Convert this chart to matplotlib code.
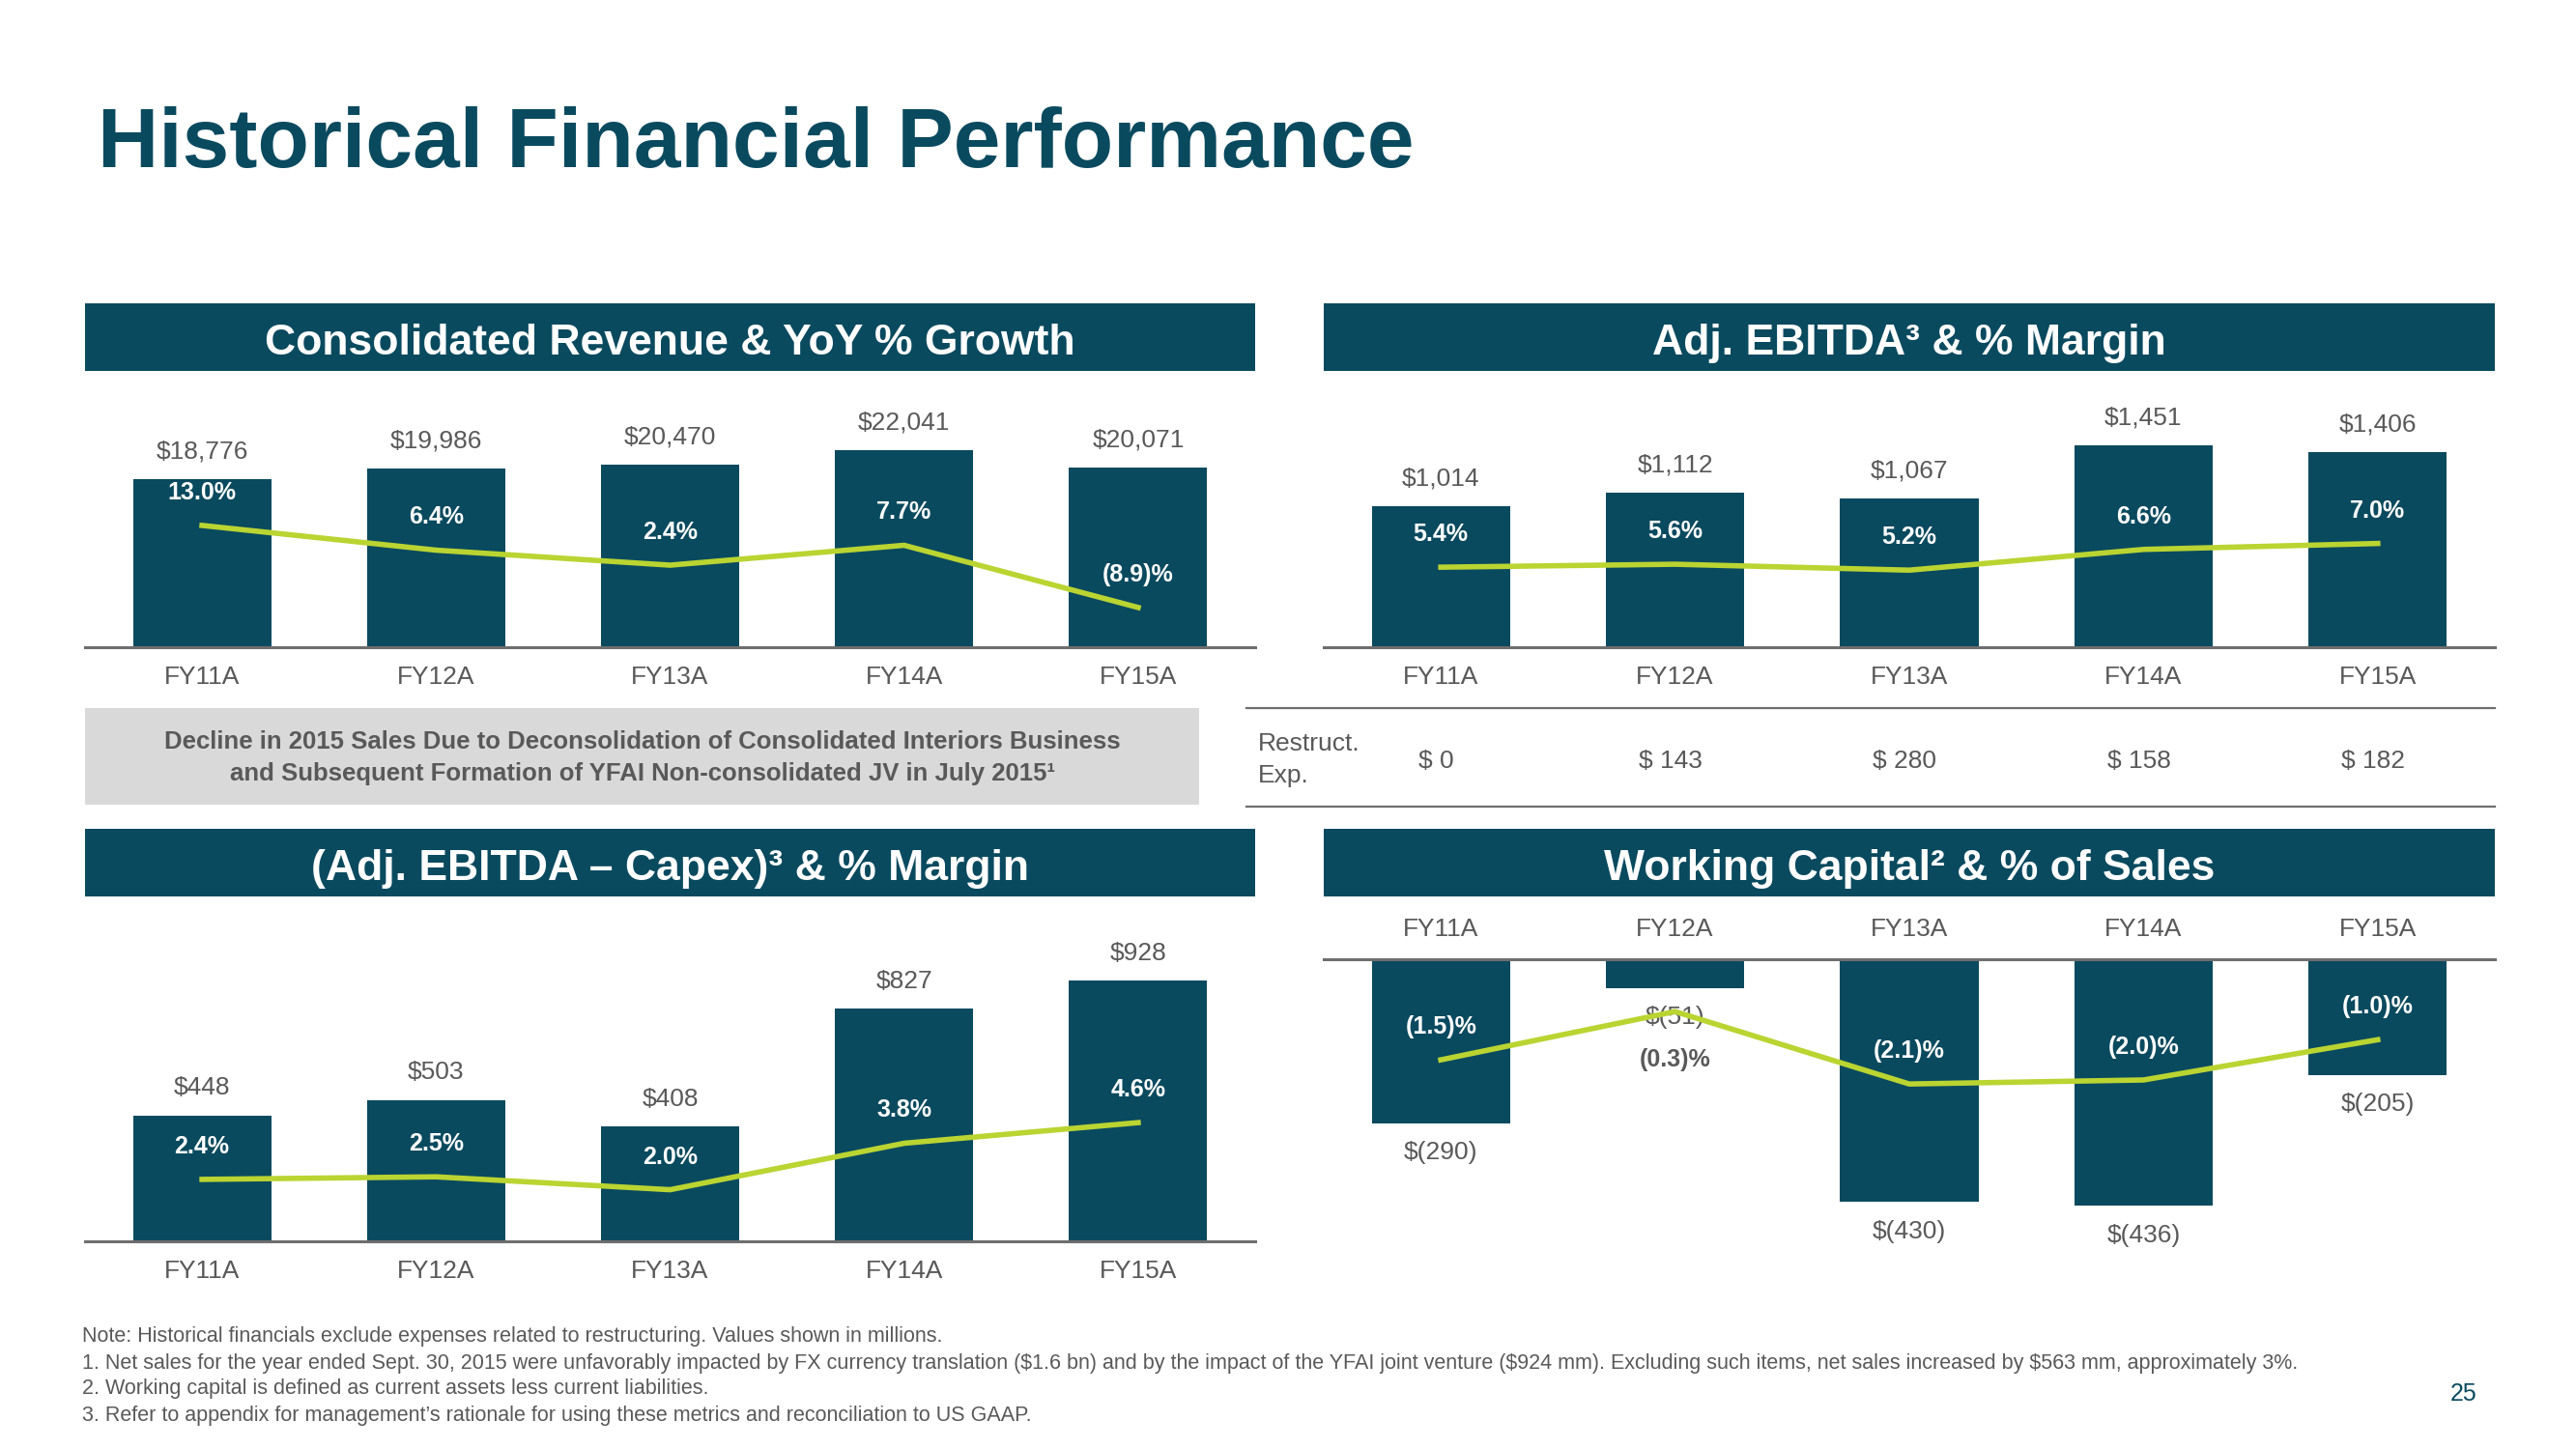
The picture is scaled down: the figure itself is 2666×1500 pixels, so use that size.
import numpy as np
import matplotlib
matplotlib.use('Agg')
import matplotlib.pyplot as plt
import matplotlib.transforms as mtransforms
from matplotlib.patches import Rectangle
from matplotlib.lines import Line2D

plt.rcParams['font.family'] = ['Liberation Sans', 'DejaVu Sans']
plt.rcParams['text.parse_math'] = False

# data
years = ['FY11A', 'FY12A', 'FY13A', 'FY14A', 'FY15A']
revenue = [18776, 19986, 20470, 22041, 20071]
rev_growth = [13.0, 6.4, 2.4, 7.7, -8.9]
ebitda = [1014, 1112, 1067, 1451, 1406]
ebitda_margin = [5.4, 5.6, 5.2, 6.6, 7.0]
restruct_exp = [0, 143, 280, 158, 182]
ebitda_capex = [448, 503, 408, 827, 928]
ebitda_capex_margin = [2.4, 2.5, 2.0, 3.8, 4.6]
working_capital = [-290, -51, -430, -436, -205]
wc_pct_sales = [-1.5, -0.3, -2.1, -2.0, -1.0]

notes = [
    'Note: Historical financials exclude expenses related to restructuring. Values shown in millions.',
    '1. Net sales for the year ended Sept. 30, 2015 were unfavorably impacted by FX currency translation ($1.6 bn) '
    'and by the impact of the YFAI joint venture ($924 mm). Excluding such items, net sales increased by $563 mm, approximately 3%.',
    '2. Working capital is defined as current assets less current liabilities.',
    '3. Refer to appendix for management\u2019s rationale for using these metrics and reconciliation to US GAAP.',
]

TEAL = '#0A4A5F'
GREEN = '#BAD431'
GRAY = '#595959'
LINEGRAY = '#6E6E6E'

W, H = 2666, 1500
fig = plt.figure(figsize=(W / 100, H / 100), dpi=100)


def rect(x0, y0, x1, y1):
    return [x0 / W, 1 - y1 / H, (x1 - x0) / W, (y1 - y0) / H]


def fx(x):
    return x / W


def fy(y):
    return 1 - y / H


def money(v):
    return f'${v:,}' if v >= 0 else f'$({-v:,})'


def pct(p):
    return f'{p:.1f}%' if p >= 0 else f'({-p:.1f})%'


def header(x0, x1, y0, y1, title):
    fig.add_artist(Rectangle((fx(x0), fy(y1)), (x1 - x0) / W, (y1 - y0) / H,
                             transform=fig.transFigure, color=TEAL, lw=0))
    fig.text(fx((x0 + x1) / 2), fy(y1 - 17), title, ha='center', va='baseline',
             color='white', fontsize=32, fontweight='bold')


def panel(box, vals, pcts, ylim, plim, top_axis=False, pad=14):
    ax = fig.add_axes(rect(*box))
    x = np.arange(len(years))
    ax.bar(x, vals, width=0.59, color=TEAL, zorder=2)
    ax.set_xlim(-0.5, 4.5)
    ax.set_ylim(*ylim)
    for s in ax.spines.values():
        s.set_visible(False)
    sp = ax.spines['top' if top_axis else 'bottom']
    sp.set_visible(True)
    sp.set_color(LINEGRAY)
    sp.set_linewidth(2.2)
    ax.set_yticks([])
    ax.set_xticks(x, years)
    if top_axis:
        ax.xaxis.tick_top()
    ax.tick_params(axis='x', length=0, pad=pad, labelsize=19, labelcolor=GRAY)
    ax.patch.set_visible(False)
    ax2 = ax.twinx()
    ax2.plot(x, pcts, color=GREEN, lw=4, zorder=3)
    ax2.set_ylim(*plim)
    ax2.axis('off')
    return ax, ax2


def labels(ax, ax2, vals, pcts, val_off=20.5, pct_off=24.5):
    for i, (v, p) in enumerate(zip(vals, pcts)):
        ax.annotate(money(v), (i, v), xytext=(0, val_off), textcoords='offset points',
                    ha='center', va='center', fontsize=19, color=GRAY)
        ax2.annotate(pct(p), (i, p), xytext=(0, pct_off), textcoords='offset points',
                     ha='center', va='center', fontsize=18, fontweight='bold', color='white')


# title
fig.text(fx(101), fy(173), 'Historical Financial Performance', ha='left', va='baseline',
         fontsize=63, fontweight='bold', color=TEAL)

# headers
header(88, 1299, 314, 384, 'Consolidated Revenue & YoY % Growth')
header(1370, 2582, 314, 384, 'Adj. EBITDA\u00b3 & % Margin')
header(88, 1299, 858, 928, '(Adj. EBITDA \u2013 Capex)\u00b3 & % Margin')
header(1370, 2582, 858, 928, 'Working Capital\u00b2 & % of Sales')

# revenue
ax, ax2 = panel((88, 400, 1299, 670), revenue, rev_growth, (0, 29170), (-19.5, 50.1))
labels(ax, ax2, revenue, rev_growth)

# adj. ebitda
ax_e, ax_e2 = panel((1370, 400, 2582, 670), ebitda, ebitda_margin, (0, 1875), (0, 17.6))
labels(ax_e, ax_e2, ebitda, ebitda_margin)

# ebitda - capex
ax, ax2 = panel((88, 945, 1299, 1285), ebitda_capex, ebitda_capex_margin, (0, 1168.6), (0, 12.73))
labels(ax, ax2, ebitda_capex, ebitda_capex_margin)

# working capital
ax, ax2 = panel((1370, 993, 2582, 1300), working_capital, wc_pct_sales, (-525, 0), (-6.37, 1.0),
                top_axis=True, pad=14)
for i, (v, p) in enumerate(zip(working_capital, wc_pct_sales)):
    ax.annotate(money(v), (i, v), xytext=(0, -22), textcoords='offset points',
                ha='center', va='center', fontsize=19, color=GRAY)
    if i == 1:
        ax2.annotate(pct(p), (i, p), xytext=(0, -36), textcoords='offset points',
                     ha='center', va='center', fontsize=18, fontweight='bold', color=GRAY)
    else:
        ax2.annotate(pct(p), (i, p), xytext=(0, 24.5), textcoords='offset points',
                     ha='center', va='center', fontsize=18, fontweight='bold', color='white')

# grey comment box under revenue
fig.add_artist(Rectangle((fx(88), fy(833)), (1241 - 88) / W, 100 / H,
                         transform=fig.transFigure, color='#D9D9D9', lw=0))
fig.text(fx(665), fy(768), 'Decline in 2015 Sales Due to Deconsolidation of Consolidated Interiors Business',
         ha='center', va='center', fontsize=18.5, fontweight='bold', color=GRAY)
fig.text(fx(665), fy(801), 'and Subsequent Formation of YFAI Non-consolidated JV in July 2015\u00b9',
         ha='center', va='center', fontsize=18.5, fontweight='bold', color=GRAY)

# restructuring row
for yy in (733, 835):
    fig.add_artist(Line2D([fx(1290), fx(2582)], [fy(yy), fy(yy)], transform=fig.transFigure,
                          color=LINEGRAY, lw=1.6))
fig.text(fx(1302), fy(777), 'Restruct.', ha='left', va='baseline', fontsize=19, color=GRAY)
fig.text(fx(1302), fy(810), 'Exp.', ha='left', va='baseline', fontsize=19, color=GRAY)
row_tr = mtransforms.blended_transform_factory(ax_e.transData, fig.transFigure)
for i, v in enumerate(restruct_exp):
    fig.text(i - 0.02, fy(795), f'$ {v}', transform=row_tr, ha='center', va='baseline',
             fontsize=19, color=GRAY)

# footnotes
for k, line in enumerate(notes):
    fig.text(fx(85), fy(1384 + 27 * k), line, ha='left', va='center', fontsize=15.5, color=GRAY)
fig.text(fx(2550), fy(1443), '25', ha='center', va='center', fontsize=18, color=TEAL)

fig.savefig('out.png', dpi=100)
